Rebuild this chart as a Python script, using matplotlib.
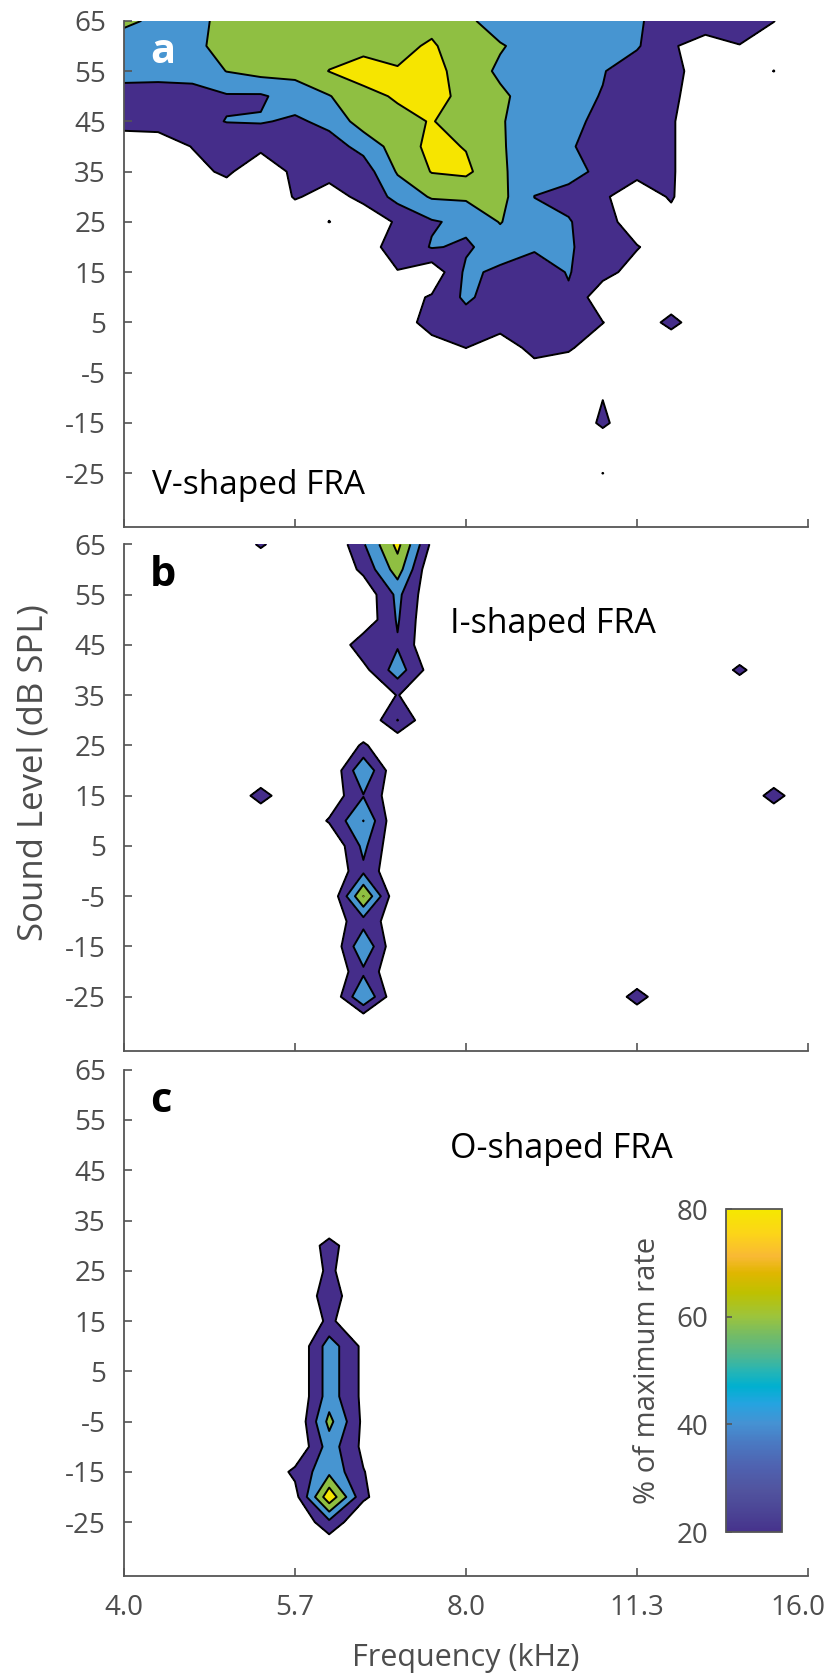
import numpy as np
import matplotlib
matplotlib.use('Agg')
import matplotlib.pyplot as plt
from matplotlib.colors import LinearSegmentedColormap, Normalize
from matplotlib.cm import ScalarMappable
from matplotlib.ticker import FixedLocator, FixedFormatter, NullLocator
from matplotlib.transforms import ScaledTranslation

plt.rcParams['font.family'] = ['Open Sans', 'DejaVu Sans']
plt.rcParams['axes.unicode_minus'] = False

# tone grid: 1/10 octave steps 4-16 kHz, 5 dB steps
freqs = [4.0, 4.287, 4.595, 4.925, 5.278, 5.657, 6.063, 6.498, 6.964, 7.464, 8.0,
         8.574, 9.190, 9.849, 10.556, 11.314, 12.126, 12.996, 13.929, 14.929, 16.0]
levels_db = [65, 60, 55, 50, 45, 40, 35, 30, 25, 20, 15, 10, 5, 0,
             -5, -10, -15, -20, -25, -30, -35]

# panel a: V-shaped FRA, % of max rate (rows = levels_db, cols = freqs)
fra_v = [
    [62, 58, 55, 65, 70, 72, 72, 70, 72, 75, 65, 48, 48, 46, 44, 42, 32, 30, 28, 20.5, 5],
    [55, 52, 56, 66, 68, 70, 72, 75, 76, 82, 70, 62, 50, 46, 44, 42, 22, 12, 19.5, 10, 0],
    [48, 47, 46, 60.5, 67, 66, 80.5, 87, 81, 86, 72, 56, 48, 46, 41, 30, 26, 10, 8, 20.3, 0],
    [31, 31, 34, 38, 37.5, 49, 59, 75, 82, 86, 75, 64, 50, 45, 39.2, 30, 25, 5, 5, 5, 0],
    [26, 26, 35, 40.5, 41.5, 37, 45, 70, 75, 81, 70, 62, 48, 45, 35, 28, 22, 5, 2, 2, 0],
    [10, 12, 20.5, 28, 24, 33, 32, 46, 70, 85, 79, 62, 50, 42, 32, 25, 22, 5, 2, 0, 0],
    [5, 8, 15, 23, 8, 24, 25, 30, 62, 81, 84, 64, 45, 44, 37, 24, 22, 5, 0, 0, 0],
    [3, 5, 8, 10, 5, 21.5, 14, 24, 47, 62, 63, 66, 39.8, 36, 22, 12, 21.5, 5, 0, 0, 0],
    [2, 3, 5, 5, 5, 8, 20.3, 10, 22, 38, 45, 61, 45, 41, 31, 5, 15, 2, 0, 0, 0],
    [0, 2, 3, 3, 3, 5, 5, 15, 25, 41.5, 37, 50, 42, 42, 30, 21.5, 5, 0, 0, 0, 0],
    [0, 0, 2, 2, 2, 3, 3, 5, 19.5, 6, 44, 36, 32, 41, 28, 10, 5, 0, 0, 0, 0],
    [0, 0, 0, 0, 2, 2, 3, 5, 12, 22, 44, 28, 32, 38, 5, 5, 5, 0, 0, 0, 0],
    [0, 0, 0, 0, 0, 2, 2, 3, 10, 28, 30, 28, 28, 27, 20.5, 5, 27, 3, 0, 0, 0],
    [0, 0, 0, 0, 0, 0, 2, 3, 5, 12, 20.3, 10, 26, 22.5, 8, 3, 2, 0, 0, 0, 0],
    [0, 0, 0, 0, 0, 0, 0, 2, 3, 5, 5, 5, 12, 8, 5, 2, 0, 0, 0, 0, 0],
    [0, 0, 0, 0, 0, 0, 0, 0, 0, 0, 0, 0, 0, 0, 19.5, 0, 0, 0, 0, 0, 0],
    [0, 0, 0, 0, 0, 0, 0, 0, 0, 0, 0, 0, 0, 0, 25, 0, 0, 0, 0, 0, 0],
    [0, 0, 0, 0, 0, 0, 0, 0, 0, 0, 0, 0, 0, 0, 0, 0, 0, 0, 0, 0, 0],
    [0, 0, 0, 0, 0, 0, 0, 0, 0, 0, 0, 0, 0, 0, 20.3, 0, 0, 0, 0, 0, 0],
    [0, 0, 0, 0, 0, 0, 0, 0, 0, 0, 0, 0, 0, 0, 0, 0, 0, 0, 0, 0, 0],
    [0, 0, 0, 0, 0, 0, 0, 0, 0, 0, 0, 0, 0, 0, 0, 0, 0, 0, 0, 0, 0],
]

# panels b, c: responsive cells only (freq index, dB, % of max rate), rest is 0
fra_i = [
    (4, 65, 23.5),
    (7, 65, 38), (8, 65, 86), (9, 65, 15),
    (7, 60, 25), (8, 60, 70),
    (7, 55, 5), (8, 55, 45), (9, 55, 3),
    (7, 50, 5), (8, 50, 42),
    (7, 45, 33), (8, 45, 38),
    (7, 40, 14), (8, 40, 50), (9, 40, 10),
    (8, 35, 21),
    (8, 30, 40.5),
    (7, 25, 23),
    (7, 20, 58),
    (6, 15, 6), (7, 15, 39), (8, 15, 3),
    (4, 15, 29), (19, 15, 29),
    (6, 10, 22), (7, 10, 60.3),
    (7, 5, 45),
    (7, 0, 36),
    (7, -5, 80.3),
    (6, -10, 8), (7, -10, 32), (8, -10, 8),
    (7, -15, 57),
    (7, -20, 36),
    (7, -25, 60), (15, -25, 29),
    (18, 40, 25),
]
fra_o = [
    (6, 30, 28), (6, 25, 24.4), (6, 20, 31.7), (6, 15, 24.4),
    (6, 10, 50), (7, 10, 15),
    (6, 5, 50), (7, 5, 15),
    (6, 0, 50), (7, 0, 15),
    (6, -5, 66), (7, -5, 15),
    (6, -10, 50), (7, -10, 15),
    (5, -15, 25), (6, -15, 55), (7, -15, 21),
    (5, -20, 12), (6, -20, 95), (7, -20, 24),
    (6, -25, 35),
    (6, -30, 4),
]

contour_levels = [20, 40, 60, 80]
band_colors = ['#452d8a', '#4795d1', '#8fbf42', '#f6e500']
panel_letters = ['a', 'b', 'c']
panel_titles = ['V-shaped FRA', 'I-shaped FRA', 'O-shaped FRA']
xtick_vals = [4.0, 5.657, 8.0, 11.314, 16.0]
xtick_labels = ['4.0', '5.7', '8.0', '11.3', '16.0']

# parula-like colour bar
cb_pos = [20, 23.4, 27.8, 32.1, 36.5, 40.2, 43.9, 47.0, 50.1, 52.6, 56.4,
          60.1, 64.5, 68.2, 71.3, 75.6, 80]
cb_cols = ['#46328c', '#4b4394', '#51549f', '#4f62b0', '#4a79c2', '#4592d3',
           '#24a4e0', '#00b0d0', '#28b5b3', '#4cb792', '#72bb68', '#9cc43c',
           '#bec100', '#e0b600', '#f9b934', '#fcd518', '#f5e800']
cmap = LinearSegmentedColormap.from_list(
    'parula_ish', [((p - 20) / 60, c) for p, c in zip(cb_pos, cb_cols)])


def sparse_grid(points):
    z = np.zeros((len(levels_db), len(freqs)))
    for k, db, v in points:
        z[levels_db.index(db), k] = v
    return z


grids = [np.array(fra_v, dtype=float), sparse_grid(fra_i), sparse_grid(fra_o)]

gray = '#4d4d4d'
fig = plt.figure(figsize=(8.27, 16.79), dpi=100)
bottoms = [0.6861, 0.3743, 0.0614]

for i, (Z, b) in enumerate(zip(grids, bottoms)):
    ax = fig.add_axes([0.1499, b, 0.8271, 0.3015])
    ax.contourf(freqs, levels_db, Z, levels=contour_levels + [101], colors=band_colors)
    ax.contour(freqs, levels_db, Z, levels=contour_levels, colors='black', linewidths=1.4)
    ax.set_xscale('log', base=2)
    ax.set_xlim(4, 16)
    ax.set_ylim(-35.7, 65)
    for s in ['top', 'right']:
        ax.spines[s].set_visible(False)
    for s in ['left', 'bottom']:
        ax.spines[s].set_color('#555555')
        ax.spines[s].set_linewidth(1.3)
    ax.xaxis.set_major_locator(FixedLocator(xtick_vals))
    ax.xaxis.set_major_formatter(FixedFormatter(xtick_labels))
    ax.xaxis.set_minor_locator(NullLocator())
    ax.set_yticks(range(-25, 66, 10))
    ax.tick_params(direction='in', length=5.5, width=1.2, color='#555555',
                   labelcolor=gray, labelsize=20, pad=13)
    if i < 2:
        ax.tick_params(axis='x', labelbottom=False)
    ax.text(0.038, 0.917, panel_letters[i], transform=ax.transAxes, fontsize=30,
            fontweight='bold', color='white' if i == 0 else 'black', va='baseline')
    if i == 0:
        ax.text(0.041, 0.066, panel_titles[i], transform=ax.transAxes, fontsize=24,
                color='black', va='baseline')
    else:
        ax.text(0.477, 0.825, panel_titles[i], transform=ax.transAxes, fontsize=24.5,
                color='black', va='baseline')
    if i == 2:
        ax.set_xlabel('Frequency (kHz)', fontsize=22, color=gray, labelpad=15)
        # keep the last tick label inside the figure
        last = ax.get_xticklabels()[-1]
        last.set_transform(last.get_transform() +
                           ScaledTranslation(-7 / 72, 0, fig.dpi_scale_trans))

fig.text(0.040, 0.54, 'Sound Level (dB SPL)', rotation=90, ha='center', va='center',
         fontsize=25, color=gray)

cax = fig.add_axes([0.8779, 0.0875, 0.0677, 0.1924])
cb = fig.colorbar(ScalarMappable(norm=Normalize(20, 80), cmap=cmap), cax=cax,
                  ticks=[20, 40, 60, 80])
cb.outline.set_edgecolor('#555555')
cb.outline.set_linewidth(1.3)
cax.yaxis.set_ticks_position('left')
cax.yaxis.set_label_position('left')
cax.tick_params(direction='in', length=4, width=1.2, color='#555555',
                labelcolor=gray, labelsize=20, pad=13)
cb.set_label('% of maximum rate', fontsize=21, color=gray, labelpad=10)

fig.savefig('out.png', dpi=100)
